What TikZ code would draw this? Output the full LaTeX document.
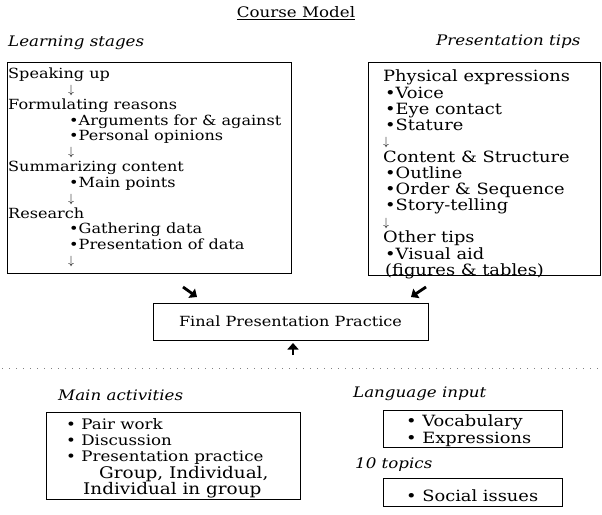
\documentclass[tikz,border=0pt]{standalone}
\usepackage{fontspec}
\setmainfont{DejaVu Serif}[FakeStretch=1.15]
\usetikzlibrary{arrows.meta}

\newcommand{\dnarrow}{{\fontsize{12.5}{12.5}\selectfont\raisebox{0.5pt}{$\downarrow$}}}

\begin{document}
\begin{tikzpicture}[x=1pt, y=-1pt,
          panel/.style = {draw, line width=0.8pt, rectangle, anchor=north west, inner sep=0pt},
          list/.style = {anchor=north west, align=left, inner sep=0pt, font=\fontsize{14}{15.5}\selectfont},
          head/.style = {anchor=west, inner sep=0pt, font=\fontsize{14.5}{16}\selectfont\itshape},
          fat/.style = {line width=2.8pt, -{Triangle[length=6.5pt,width=11pt]}}
        ]
        \useasboundingbox (0,0) rectangle (602,514);

        % headings
        \node[inner sep=0pt, font=\fontsize{14.5}{16}\selectfont] (title) at (296,13) {\underline{Course Model}};
        \node[head] (stageshead) at (8,43) {Learning stages};
        \node[head] (tipshead) at (436,42) {Presentation tips};
        \node[head] (acthead) at (58,395) {Main activities};
        \node[head] (langhead) at (353,394) {Language input};
        \node[head] (topichead) at (355,465) {10 topics};

        % upper boxes
        \node[panel, minimum width=284pt, minimum height=211pt] (stages) at (7,62) {};
        \node[list] (stageslist) at (8,68) {Speaking up\\
          \hspace*{60pt}\dnarrow\\
          Formulating reasons\\
          \hspace*{61pt}\textbullet Arguments for \& against\\
          \hspace*{61pt}\textbullet Personal opinions\\
          \hspace*{60pt}\dnarrow\\
          Summarizing content\\
          \hspace*{61pt}\textbullet Main points\\
          \hspace*{60pt}\dnarrow\\
          Research\\
          \hspace*{61pt}\textbullet Gathering data\\
          \hspace*{61pt}\textbullet Presentation of data\\
          \hspace*{60pt}\dnarrow};

        \node[panel, minimum width=232pt, minimum height=213pt] (tips) at (368,62) {};
        \node[list, font=\fontsize{15.5}{16.1}\selectfont] (tipslist) at (383,70) {Physical expressions\\
          \hspace*{2pt}\textbullet Voice\\
          \hspace*{2pt}\textbullet Eye contact\\
          \hspace*{2pt}\textbullet Stature\\
          \dnarrow\\
          Content \& Structure\\
          \hspace*{2pt}\textbullet Outline\\
          \hspace*{2pt}\textbullet Order \& Sequence\\
          \hspace*{2pt}\textbullet Story-telling\\
          \dnarrow\\
          Other tips\\
          \hspace*{2pt}\textbullet Visual aid\\
          \hspace*{2pt}(figures \& tables)};

        % final practice
        \node[draw, line width=1pt, rectangle, minimum width=275pt, minimum height=37pt,
              font=\fontsize{14}{16}\selectfont] (final) at (290.5,321.5) {Final Presentation Practice};
        \draw[line width=1.8pt] (final.north east) -- (final.south east);

        \coordinate (fromstages) at (183,287);
        \coordinate (tostages) at (197,297);
        \coordinate (fromtips) at (426,287);
        \coordinate (totips) at (411,297);
        \coordinate (frombelow) at (293,355);
        \coordinate (tobelow) at (293,343);
        \draw[fat] (fromstages) -- (tostages);
        \draw[fat] (fromtips) -- (totips);
        \draw[fat] (frombelow) -- (tobelow);

        \draw[gray, line width=0.7pt, dash pattern=on 1pt off 6pt] (2,368) -- (600,368);

        % lower boxes
        \node[panel, minimum width=254pt, minimum height=87pt] (activities) at (46,412) {};
        \node[list, font=\fontsize{14.5}{16.3}\selectfont] (actlist) at (66,418) {\textbullet{} Pair work\\
          \textbullet{} Discussion\\
          \textbullet{} Presentation practice\\
          \hspace*{33pt}{\fontsize{16}{16.3}\selectfont Group, Individual,}\\
          \hspace*{17pt}{\fontsize{16}{16.3}\selectfont Individual in group}};

        \node[panel, minimum width=179pt, minimum height=37pt] (language) at (383,410) {};
        \node[list, font=\fontsize{15.5}{17}\selectfont] (langlist) at (406,415) {\textbullet{} Vocabulary\\
          \textbullet{} Expressions};

        \node[panel, minimum width=179pt, minimum height=28pt] (topics) at (383,478) {};
        \node[list, font=\fontsize{15.5}{17}\selectfont] (topiclist) at (406,490) {\textbullet{} Social issues};
      \end{tikzpicture}
\end{document}
